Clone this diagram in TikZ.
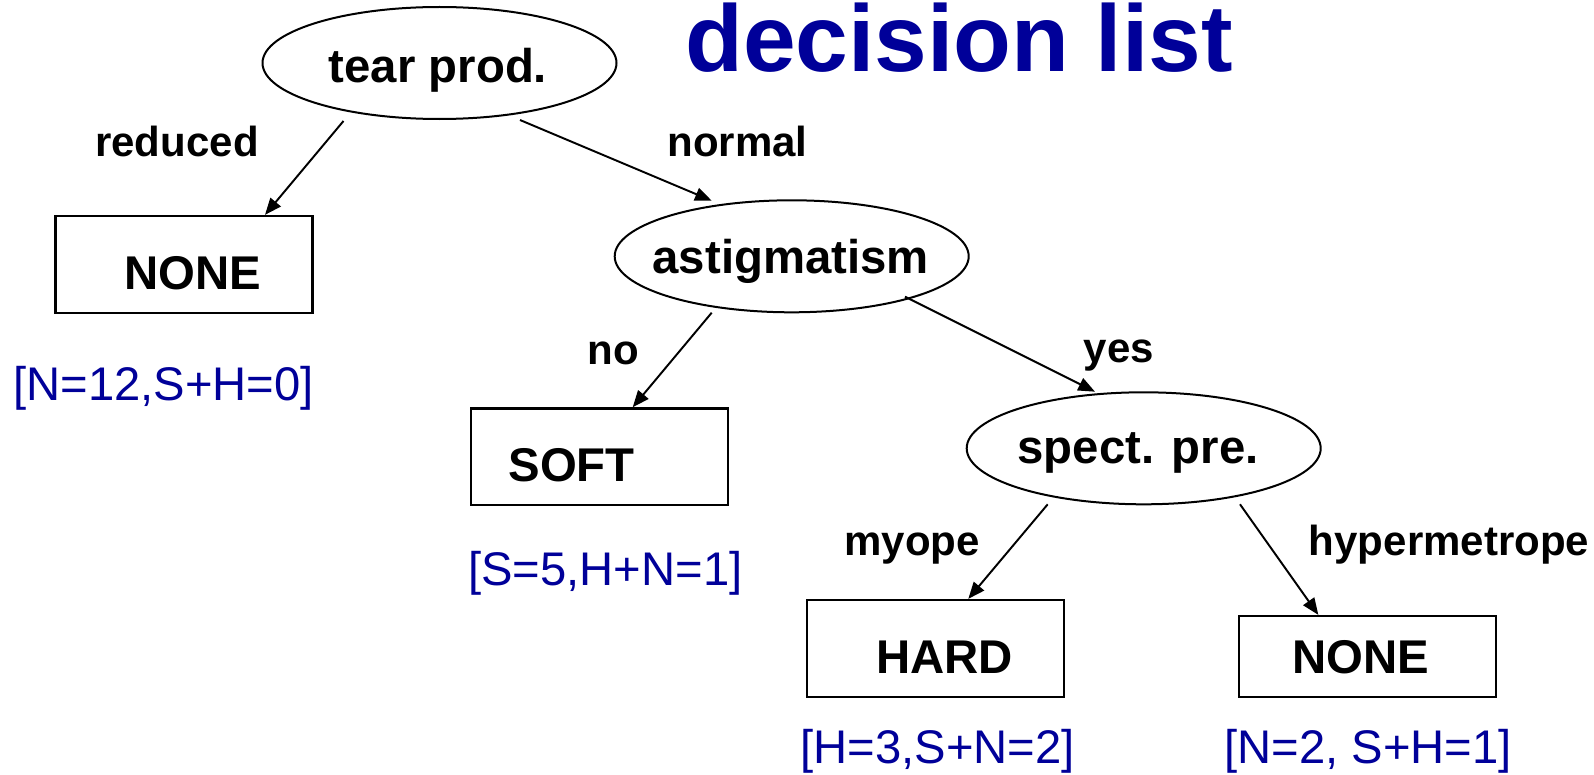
\documentclass[tikz,border=0pt]{standalone}
\usepackage{fontspec}
\setmainfont{Liberation Sans}
\usetikzlibrary{shapes.geometric,arrows.meta,calc}
\definecolor{dblue}{RGB}{0,0,153}
\begin{document}
\begin{tikzpicture}[x=0.75pt,y=-0.75pt,
  oval/.style={ellipse,draw,line width=1.5pt,minimum width=265.5pt,minimum height=84pt,
    inner sep=0pt,font=\fontsize{35.5}{40}\selectfont\bfseries,text depth=0pt},
  leaf/.style={rectangle,draw,line width=1.7pt,minimum width=192.75pt,minimum height=72.5pt,
    inner sep=0pt,font=\fontsize{35.5}{40}\selectfont\bfseries,text depth=0pt,text height=37.5pt},
  edge/.style={line width=1.45pt,-{Triangle[length=12.5pt,width=10pt]}},
  elabel/.style={font=\fontsize{31.5}{36}\selectfont\bfseries,anchor=base,inner sep=0pt},
  count/.style={font=\fontsize{35.4}{40}\selectfont,text=dblue,anchor=base,inner sep=0pt}]
\useasboundingbox (0,0) rectangle (1594,774);

% title
\node[font=\fontsize{71}{80}\selectfont\bfseries,text=dblue,anchor=base,inner sep=0pt] (title) at (959,71.5) {decision list};

% decision nodes
\node[oval,text height=29.6pt] (tear) at (439.5,63) {\makebox[0pt]{tear prod.\hspace*{2.25pt}}};
\node[oval,text height=25.5pt] (astig) at (791.7,256.3) {\makebox[0pt]{astigmatism\hspace*{1.5pt}}};
\node[oval,text height=22.5pt] (spect) at (1143.7,448.3) {\makebox[0pt]{spect. pre.\hspace*{8.5pt}}};

% leaves
\node[leaf] (none1) at (184,264.3) {\makebox[0pt]{\hspace*{12.75pt}NONE}};
\node[leaf] (soft) at (599.7,456.7) {\makebox[0pt]{SOFT\hspace*{42pt}}};
\node[leaf] (hard) at (935.8,648.3) {\makebox[0pt]{\hspace*{13pt}HARD}};
\node[leaf,minimum height=60.5pt,text height=25.5pt] (none2) at (1367.7,656.3) {\makebox[0pt]{NONE\hspace*{10.5pt}}};

% edge labels
\node[elabel] (lreduced) at (177,156) {reduced};
\node[elabel] (lnormal) at (737.5,156) {normal};
\node[elabel] (lno) at (613,364) {no};
\node[elabel] (lyes) at (1119,362) {yes};
\node[elabel] (lmyope) at (912,555) {myope};
\node[elabel] (lhyper) at (1449,555) {hypermetrope};

% counts
\node[count] (c1) at (163.6,400.7) {[N=12,S+H=0]};
\node[count] (c2) at (605.3,585) {[S=5,H+N=1]};
\node[count] (c3) at (937.8,763.3) {[H=3,S+N=2]};
\node[count] (c4) at (1368,763.3) {[N=2, S+H=1]};

% connectors
\draw[edge] ($(tear.center)+(-96,58)$) -- ($(none1.north)+(81,0)$);
\draw[edge] ($(tear.center)+(80.5,57)$) -- ($(astig.center)+(-80,-55.6)$);
\draw[edge] ($(astig.center)+(-80,56.4)$) -- ($(soft.north)+(33,0)$);
\draw[edge] ($(astig.center)+(113.3,40.4)$) -- ($(spect.center)+(-48.7,-56.6)$);
\draw[edge] ($(spect.center)+(-96,56)$) -- ($(hard.north)+(32.5,0)$);
\draw[edge] ($(spect.center)+(96.3,56)$) -- ($(none2.north)+(-49.4,0)$);
\end{tikzpicture}
\end{document}
